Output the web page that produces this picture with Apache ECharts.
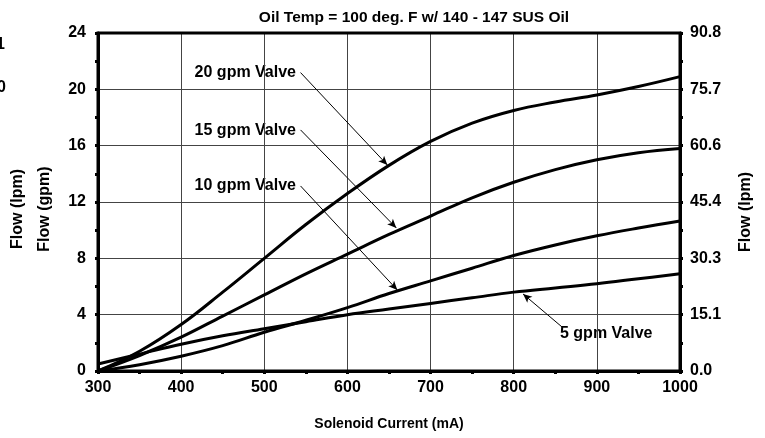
<!DOCTYPE html>
<html><head><meta charset="utf-8">
<script src="https://cdn.jsdelivr.net/npm/echarts@6/dist/echarts.min.js"></script>
<style>html,body{margin:0;padding:0;background:#fff}#c{width:765px;height:438px}</style>
</head><body><div id="c"></div>
<script>
var current = [300,350,400,450,500,550,600,650,700,750,800,850,900,950,1000];
var gpm20 = [0,1.4,3.3,5.6,8.0,10.4,12.6,14.6,16.3,17.6,18.5,19.1,19.6,20.2,20.9];
var gpm15 = [0,1.1,2.4,3.9,5.4,6.9,8.3,9.7,11.0,12.3,13.4,14.3,15.0,15.5,15.8];
var gpm10 = [0,0.45,1.05,1.8,2.75,3.6,4.5,5.5,6.4,7.3,8.2,8.95,9.6,10.15,10.65];
var gpm5  = [0.5,1.2,1.9,2.5,3.0,3.5,4.0,4.4,4.8,5.2,5.6,5.9,6.2,6.55,6.9];
var seriesNames = ['20 gpm Valve','15 gpm Valve','10 gpm Valve','5 gpm Valve'];
var gpmToLpm = 3.785;
var leftMax = 24, leftStep = 4;
// annotation arrows: start(mA,gpm) -> end(mA,gpm)
var arrows = [
  [[543.6,21.19],[648,14.63]],
  [[543.6,17.12],[658.8,10.16]],
  [[543.6,13.14],[660,5.75]],
  [[858,3.13],[811.2,5.47]]
];
var FONT = 'Liberation Sans';
function pairs(ys){ return current.map(function(x,i){return [x,ys[i]];}); }
var chart = echarts.init(document.getElementById('c'));
var all = [gpm20,gpm15,gpm10,gpm5];
var series = all.map(function(ys,i){
  return {type:'line', name:seriesNames[i], data:pairs(ys), smooth:0.4, symbol:'none',
    lineStyle:{color:'#000', width:3}, z:5, silent:true,
    markLine: {silent:true, symbol:['none','arrow'], symbolSize:[6,9], precision:2,
      lineStyle:{color:'#000', width:1, type:'solid'}, label:{show:false},
      data:[[{coord:arrows[i][0]},{coord:arrows[i][1]}]]}
  };
});
var axisLabelStyle = {fontFamily:FONT, fontWeight:'bold', fontSize:16, color:'#000'};
var nameFont = 'bold 16px "Liberation Sans"';
var seriesFont = 'bold 16px "Liberation Sans"';
var option = {
  animation:false,
  backgroundColor:'#fff',
  title:{text:'Oil Temp = 100 deg. F w/ 140 - 147 SUS Oil', left:409, top:5, textAlign:'center',
    textStyle:{fontFamily:FONT, fontWeight:'bold', fontSize:15.5, color:'#000'}},
  grid:{left:98, right:85, top:33, bottom:67},
  xAxis:{type:'value', min:300, max:1000, interval:100,
    name:'Solenoid Current (mA)', nameLocation:'middle', nameGap:46,
    nameTextStyle:{fontFamily:FONT, fontWeight:'bold', fontSize:14, color:'#000'},
    axisLine:{lineStyle:{color:'#000', width:3}},
    axisTick:{show:true, length:3, lineStyle:{color:'#000', width:3}},
    minorTick:{show:true, splitNumber:2, length:3, lineStyle:{color:'#000', width:3}},
    splitLine:{show:true, lineStyle:{color:'#444', width:1}},
    axisLabel:Object.assign({margin:9, formatter:function(v){return String(v);}}, axisLabelStyle)},
  yAxis:[
    {type:'value', min:0, max:leftMax, interval:leftStep, position:'left',
     axisLine:{show:true, lineStyle:{color:'#000', width:3}},
     axisTick:{show:true, length:3, lineStyle:{color:'#000', width:3}},
     minorTick:{show:true, splitNumber:2, length:3, lineStyle:{color:'#000', width:3}},
     splitLine:{show:true, lineStyle:{color:'#444', width:1}},
     axisLabel:Object.assign({margin:12}, axisLabelStyle)},
    {type:'value', min:0, max:leftMax*gpmToLpm, interval:leftStep*gpmToLpm, position:'right',
     axisLine:{show:true, lineStyle:{color:'#000', width:3}},
     axisTick:{show:true, length:3, lineStyle:{color:'#000', width:3}},
     minorTick:{show:true, splitNumber:2, length:3, lineStyle:{color:'#000', width:3}},
     splitLine:{show:false},
     axisLabel:Object.assign({margin:10, formatter:function(v){return v.toFixed(1);}}, axisLabelStyle)}
  ],
  graphic:[
    {type:'rect', shape:{x:98, y:33, width:582, height:338}, style:{fill:'none', stroke:'#000', lineWidth:3}, z:10, silent:true},
    {type:'text', x:18, y:209, rotation:Math.PI/2, style:{text:'Flow (lpm)', font:nameFont, fill:'#000', textAlign:'center', textVerticalAlign:'middle'}},
    {type:'text', x:45, y:209, rotation:Math.PI/2, style:{text:'Flow (gpm)', font:nameFont, fill:'#000', textAlign:'center', textVerticalAlign:'middle'}},
    {type:'text', x:746, y:212, rotation:Math.PI/2, style:{text:'Flow (lpm)', font:nameFont, fill:'#000', textAlign:'center', textVerticalAlign:'middle'}},
    {type:'text', x:-4, y:45, style:{text:'1', font:'bold 16px "Liberation Sans"', fill:'#000', textVerticalAlign:'middle'}},
    {type:'text', x:-3, y:88, style:{text:'0', font:'bold 16px "Liberation Sans"', fill:'#000', textVerticalAlign:'middle'}},
    {type:'text', x:296, y:73, style:{text:seriesNames[0], font:seriesFont, fill:'#000', textAlign:'right', textVerticalAlign:'middle'}},
    {type:'text', x:296, y:131, style:{text:seriesNames[1], font:seriesFont, fill:'#000', textAlign:'right', textVerticalAlign:'middle'}},
    {type:'text', x:296, y:186, style:{text:seriesNames[2], font:seriesFont, fill:'#000', textAlign:'right', textVerticalAlign:'middle'}},
    {type:'text', x:560, y:334, style:{text:seriesNames[3], font:seriesFont, fill:'#000', textAlign:'left', textVerticalAlign:'middle'}}
  ],
  series:series
};
chart.setOption(option);
</script></body></html>
